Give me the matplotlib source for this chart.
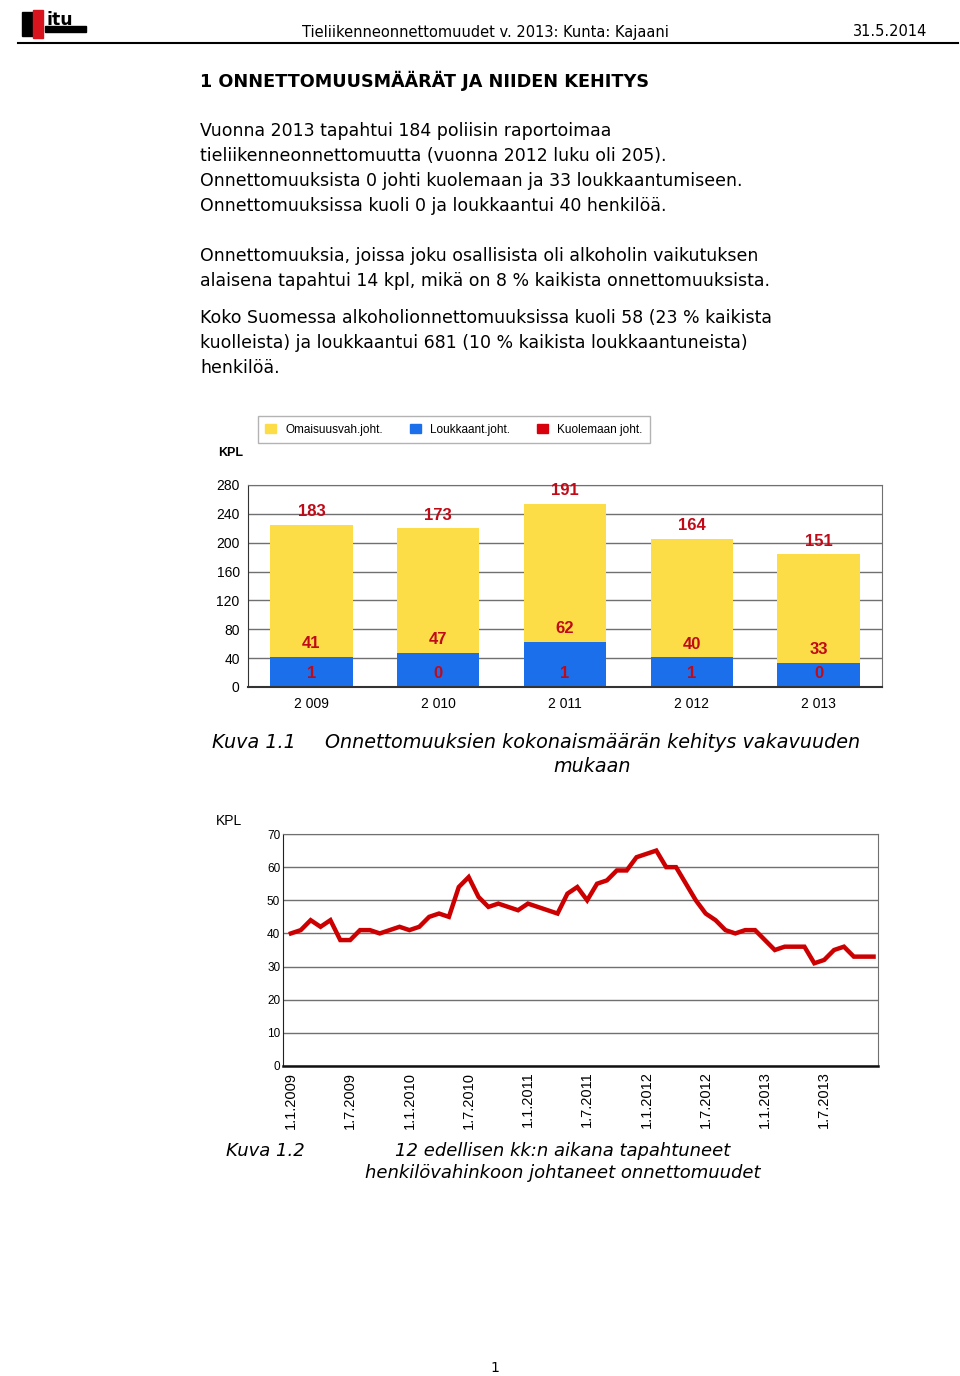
import matplotlib
matplotlib.use('Agg')
import matplotlib.pyplot as plt
from matplotlib.patches import Rectangle, Patch
from matplotlib.lines import Line2D
import numpy as np

W, H = 960, 1376

# Kuva 1.1 data
vuodet = ['2 009', '2 010', '2 011', '2 012', '2 013']
omaisuusvah = [183, 173, 191, 164, 151]
loukkaant = [41, 47, 62, 40, 33]
kuolemaan = [1, 0, 1, 1, 0]

# Kuva 1.2 data (12 kk liukuva summa, 1/2009 - 12/2013)
henkilovahinko = [40, 41, 44, 42, 44, 38, 38, 41, 41, 40, 41, 42,
                  41, 42, 45, 46, 45, 54, 57, 51, 48, 49, 48, 47,
                  49, 48, 47, 46, 52, 54, 50, 55, 56, 59, 59, 63,
                  64, 65, 60, 60, 55, 50, 46, 44, 41, 40, 41, 41,
                  38, 35, 36, 36, 36, 31, 32, 35, 36, 33, 33, 33]
kk_tikit = ['1.1.2009', '1.7.2009', '1.1.2010', '1.7.2010', '1.1.2011',
            '1.7.2011', '1.1.2012', '1.7.2012', '1.1.2013', '1.7.2013']

KELTAINEN = '#FDDD47'
SININEN = '#1C6FEA'
PUNAINEN = '#D8000C'
TUMMANPUN = '#C00A18'
CHART_FONT = 'Liberation Sans'
TEXT_FONT = 'DejaVu Sans'


def px(x, y):
    return x / W, 1 - y / H


def ftext(x, y, s, **kw):
    kw.setdefault('family', TEXT_FONT)
    fig.text(*px(x, y), s, va='center', **kw)


fig = plt.figure(figsize=(W / 100, H / 100), dpi=100)

# logo
fig.add_artist(Rectangle(px(22, 36), 11 / W, 24 / H, transform=fig.transFigure, color='black'))
fig.add_artist(Rectangle(px(33, 38), 10 / W, 28 / H, transform=fig.transFigure, color='#D8141E'))
fig.add_artist(Rectangle(px(45, 32), 41 / W, 6 / H, transform=fig.transFigure, color='black'))
fig.text(*px(46, 20), 'itu', family=TEXT_FONT, weight='bold', fontsize=12.5, va='center')

# header
ftext(302, 32, 'Tieliikenneonnettomuudet v. 2013: Kunta: Kajaani', fontsize=10.5)
ftext(927, 32, '31.5.2014', fontsize=10.5, ha='right')
fig.add_artist(Line2D([18 / W, 958 / W], [1 - 43 / H] * 2, transform=fig.transFigure,
                      color='black', lw=1.5))

ftext(200, 81, '1 ONNETTOMUUSMÄÄRÄT JA NIIDEN KEHITYS', fontsize=12.7, weight='bold')
rivit = [(131, 'Vuonna 2013 tapahtui 184 poliisin raportoimaa'),
         (156, 'tieliikenneonnettomuutta (vuonna 2012 luku oli 205).'),
         (181, 'Onnettomuuksista 0 johti kuolemaan ja 33 loukkaantumiseen.'),
         (206, 'Onnettomuuksissa kuoli 0 ja loukkaantui 40 henkilöä.'),
         (256, 'Onnettomuuksia, joissa joku osallisista oli alkoholin vaikutuksen'),
         (281, 'alaisena tapahtui 14 kpl, mikä on 8 % kaikista onnettomuuksista.'),
         (318, 'Koko Suomessa alkoholionnettomuuksissa kuoli 58 (23 % kaikista'),
         (343, 'kuolleista) ja loukkaantui 681 (10 % kaikista loukkaantuneista)'),
         (368, 'henkilöä.')]
for y, s in rivit:
    ftext(200, y, s, fontsize=12.5)

# ---- Kuva 1.1 : pinottu pylväs
ax1 = fig.add_axes([248 / W, 1 - 687 / H, 634 / W, 202 / H])
x = np.arange(len(vuodet))
k = np.array(kuolemaan)
l = np.array(loukkaant)
o = np.array(omaisuusvah)
ax1.bar(x, o, 0.65, bottom=k + l, color=KELTAINEN, zorder=2)
ax1.bar(x, l, 0.65, bottom=k, color=SININEN, zorder=2)
ax1.bar(x, k, 0.65, color=PUNAINEN, zorder=2)
for i in range(len(x)):
    for val, top in [(k[i], k[i]), (l[i], k[i] + l[i]), (o[i], k[i] + l[i] + o[i])]:
        ax1.annotate(str(val), (x[i], top), xytext=(0, 9.5), textcoords='offset points',
                     ha='center', va='center', color=TUMMANPUN, fontsize=12,
                     weight='bold', family=CHART_FONT, zorder=3)
ax1.set_xlim(-0.5, 4.5)
ax1.set_ylim(0, 280)
ax1.set_yticks(range(0, 281, 40))
ax1.set_xticks(x)
ax1.set_xticklabels(vuodet)
ax1.grid(axis='y', color='#707070', lw=1, zorder=0)
ax1.tick_params(length=0, labelsize=10, pad=6)
ax1.tick_params(axis='x', pad=7)
for t in ax1.get_xticklabels() + ax1.get_yticklabels():
    t.set_family(CHART_FONT)
for s in ['top', 'right']:
    ax1.spines[s].set_color('#707070')
ax1.spines['left'].set_color('#333333')
ax1.spines['bottom'].set_color('#333333')
ax1.spines['bottom'].set_linewidth(1.5)

kahvat = [Patch(color=KELTAINEN, label='Omaisuusvah.joht.'),
          Patch(color=SININEN, label='Loukkaant.joht.'),
          Patch(color=PUNAINEN, label='Kuolemaan joht.')]
leg = fig.legend(handles=kahvat, loc='center', ncol=3,
                 bbox_to_anchor=px(454, 429.5),
                 prop={'family': CHART_FONT, 'size': 8.5}, fancybox=False,
                 edgecolor='#A0A0A0', handlelength=0.9, handleheight=0.9,
                 handletextpad=0.8, columnspacing=2.3, borderpad=0.6,
                 borderaxespad=0)
leg.get_frame().set_linewidth(1)
fig.text(*px(218, 453), 'KPL', family=CHART_FONT, weight='bold', fontsize=9, va='center')

ftext(212, 743, 'Kuva 1.1', fontsize=13.75, style='italic')
ftext(325, 742, 'Onnettomuuksien kokonaismäärän kehitys vakavuuden', fontsize=13.75, style='italic')
ftext(592, 766, 'mukaan', fontsize=13.75, style='italic', ha='center')

# ---- Kuva 1.2 : viiva
ax2 = fig.add_axes([283 / W, 1 - 1066 / H, 595 / W, 232 / H])
kk = np.arange(len(henkilovahinko))
ax2.plot(kk, henkilovahinko, color='#CC0000', lw=3.2, solid_joinstyle='miter', zorder=3)
ax2.set_xlim(-0.8, 59.45)
ax2.set_ylim(0, 70)
ax2.set_yticks(range(0, 71, 10))
ax2.set_xticks(kk[::6])
ax2.set_xticklabels(kk_tikit, rotation=90, fontsize=10.5, family=CHART_FONT)
for t in ax2.get_yticklabels():
    t.set_family(CHART_FONT)
ax2.tick_params(length=0, labelsize=8.5, pad=2)
ax2.tick_params(axis='x', labelsize=10.5, pad=4)
ax2.grid(axis='y', color='#707070', lw=1, zorder=0)
for s in ['top', 'right']:
    ax2.spines[s].set_color('#707070')
ax2.spines['left'].set_color('#222222')
ax2.spines['bottom'].set_color('#111111')
ax2.spines['bottom'].set_linewidth(1.8)
fig.text(*px(216, 821), 'KPL', family=CHART_FONT, fontsize=10, va='center')

ftext(226, 1151, 'Kuva 1.2', fontsize=13, style='italic')
ftext(563, 1151, '12 edellisen kk:n aikana tapahtuneet', fontsize=13, style='italic', ha='center')
ftext(563, 1173, 'henkilövahinkoon johtaneet onnettomuudet', fontsize=13, style='italic', ha='center')

ftext(495, 1368, '1', fontsize=10, ha='center')

fig.savefig('out.png', dpi=100)
